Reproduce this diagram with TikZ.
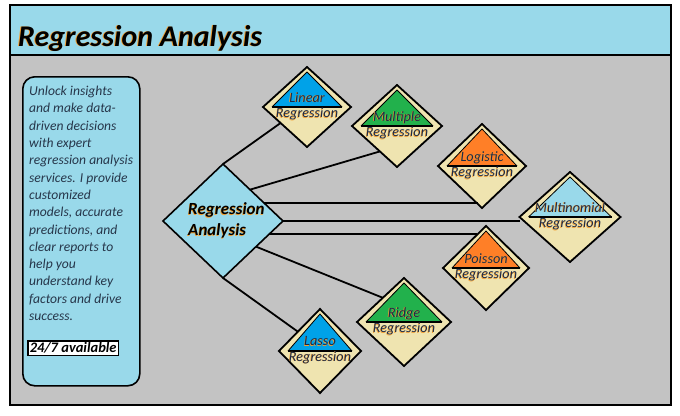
\documentclass[tikz,border=0pt]{standalone}
\usepackage{fontspec}
\setmainfont{Carlito}
\usetikzlibrary{shapes.geometric,calc}
\definecolor{tb}{HTML}{99D9EA}
\definecolor{gr}{HTML}{C3C3C3}
\definecolor{cream}{HTML}{EFE4B0}
\definecolor{pblue}{HTML}{00A2E8}
\definecolor{pgreen}{HTML}{22B14C}
\definecolor{porange}{HTML}{FF7F27}
\definecolor{glowc}{HTML}{F5A030}
\definecolor{navy}{HTML}{1C2A48}
\definecolor{slate}{HTML}{26364A}
\newcommand\glw[2][black]{\makebox[0pt][l]{\kern-0.6pt\raisebox{-0.5pt}{\color{glowc}#2}}{\color{#1}#2}}
\newcommand\glwt[2][black]{\makebox[0pt][l]{\kern-1pt\raisebox{-0.8pt}{\color{glowc}#2}}{\color{#1}#2}}
\newcommand\regd[6]{%
  \node[smalld, minimum width=#3, minimum height=#4] (#1) at #2 {};
  \fill[#5] ($(#1.north)+(0,5)$) -- ($(#1.west)+(9,0)$) -- ($(#1.east)+(-9,0)$) -- cycle;
  \draw[line width=0.8pt, line join=round] ($(#1.west)+(9,0)$) -- ($(#1.north)+(0,5)$) -- ($(#1.east)+(-9,0)$);
  \draw[line width=2pt] ($(#1.west)+(9,0)$) -- ($(#1.east)+(-9,0)$);
  \node[dlabel] (#1-t) at ($(#1.center)+(0,-0.5)$) {\glw[navy]{#6}\\\glw[navy]{Regression}};
}
\begin{document}
\begin{tikzpicture}[x=1pt,y=-1pt,
  smalld/.style={diamond, draw, fill=cream, line width=1.8pt, inner sep=0pt, outer sep=0pt},
  dlabel/.style={align=center, inner sep=0pt, font=\fontsize{14.2}{15.5}\selectfont\itshape},
  conn/.style={line width=1.8pt}]
\useasboundingbox (0,0) rectangle (680,415);
\fill[white] (0,0) rectangle (680,415);
% frame
\draw[line width=2pt, fill=gr] (10,5) rectangle (671,405);
\draw[line width=2pt, fill=tb] (10,5) rectangle (671,55);
\node[anchor=base west, inner sep=0pt, font=\fontsize{30}{32}\selectfont\bfseries\itshape] (title) at (18,46) {\glwt{Regression Analysis}};
% info box
\node[draw, rounded corners=12pt, line width=1.6pt, fill=tb, minimum width=117pt, minimum height=309pt, anchor=north west, inner sep=0pt] (info) at (22,76) {};
\node[anchor=north west, align=left, inner sep=0pt, text=slate, font=\fontsize{13.6}{17.3}\selectfont\itshape] (desc) at (29,86)
 {Unlock insights\\and make data-\\driven decisions\\with expert\\regression analysis\\services. I provide\\customized\\models, accurate\\predictions, and\\clear reports to\\help you\\understand key\\factors and drive\\success.};
\node[draw, line width=1.5pt, fill=white, anchor=north west, inner xsep=2pt, inner ysep=2pt, font=\fontsize{14.5}{15}\selectfont\bfseries\itshape] (avail) at (27,340) {24/7 available};
% central diamond
\node[diamond, draw, fill=tb, line width=1.6pt, minimum width=120pt, minimum height=114pt, inner sep=0pt, outer sep=0pt] (c) at (223,221) {};
\node[anchor=west, align=left, inner sep=0pt, font=\fontsize{17}{21}\selectfont\bfseries\itshape] (c-t) at (188,221) {\glw{Regression}\\\glw{Analysis}};
% small diamonds
\regd{lin}{(307,107)}{88pt}{80pt}{pblue}{Linear}
\regd{mul}{(397,126)}{90pt}{82pt}{pgreen}{Multiple}
\regd{log}{(482,166)}{88pt}{84pt}{porange}{Logistic}
\regd{mn}{(570,217)}{101pt}{90pt}{tb}{Multinomial}
\regd{poi}{(486,268)}{86pt}{84pt}{porange}{Poisson}
\regd{rid}{(404,322)}{94pt}{88pt}{pgreen}{Ridge}
\regd{las}{(320,351)}{82pt}{84pt}{pblue}{Lasso}
% connectors
\draw[conn] (c.north) -- ($(lin.west)!0.4!(lin.south)$);
\draw[conn] ($(c.north)!0.45!(c.east)$) -- ($(mul.west)!0.62!(mul.south)$);
\coordinate (lg0) at ($(c.north)!0.68!(c.east)$);
\draw[conn] (lg0) -- (lg0 -| {$(log.west)!0.9!(log.south)$});
\draw[conn] (c.east) -- (c.east -| mn.west);
\coordinate (po0) at ($(c.east)!0.23!(c.south)$);
\draw[conn] (po0) -- (po0 -| {$(poi.west)!0.78!(poi.north)$});
\draw[conn] ($(c.east)!0.45!(c.south)$) -- ($(rid.west)!0.55!(rid.north)$);
\draw[conn] (c.south) -- ($(las.west)!0.46!(las.north)$);
\end{tikzpicture}
\end{document}
